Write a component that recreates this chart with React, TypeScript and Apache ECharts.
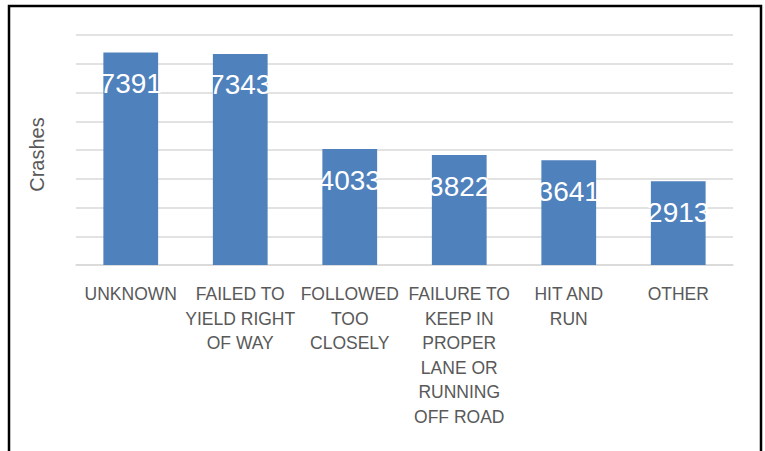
import React, { useEffect, useRef } from "react";
import * as echarts from "echarts";

const categories = [
  "UNKNOWN",
  "FAILED TO YIELD RIGHT OF WAY",
  "FOLLOWED TOO CLOSELY",
  "FAILURE TO KEEP IN PROPER LANE OR RUNNING OFF ROAD",
  "HIT AND RUN",
  "OTHER",
];
const wrappedLabels = [
  "UNKNOWN",
  "FAILED TO\nYIELD RIGHT\nOF WAY",
  "FOLLOWED\nTOO\nCLOSELY",
  "FAILURE TO\nKEEP IN\nPROPER\nLANE OR\nRUNNING\nOFF ROAD",
  "HIT AND\nRUN",
  "OTHER",
];
const crashes = [7391, 7343, 4033, 3822, 3641, 2913];
const yAxisName = "Crashes";
const yMin = 0;
const yMax = 8000;
const yInterval = 1000;

export default function App() {
  const ref = useRef<HTMLDivElement>(null);
  useEffect(() => {
    if (!ref.current) return;
    const chart = echarts.init(ref.current, null, { renderer: "svg" });
    chart.setOption({
      animation: false,
      backgroundColor: "#ffffff",
      grid: { left: 76, right: 32, top: 35, bottom: 186, containLabel: false },
      graphic: [
        {
          type: "rect",
          shape: { x: 9, y: 6, width: 752, height: 470 },
          style: { fill: "none", stroke: "#000000", lineWidth: 2.5 },
          silent: true,
        },
      ],
      xAxis: {
        type: "category",
        data: categories,
        axisTick: { show: false },
        axisLine: { show: true, lineStyle: { color: "#d9d9d9", width: 1.5 } },
        axisLabel: {
          interval: 0,
          margin: 17,
          color: "#595959",
          fontFamily: "Liberation Sans, Arial, sans-serif",
          fontSize: 17.5,
          lineHeight: 24.5,
          align: "center",
          formatter: (_v: string, i: number) => wrappedLabels[i],
        },
      },
      yAxis: {
        type: "value",
        min: yMin,
        max: yMax,
        interval: yInterval,
        name: yAxisName,
        nameLocation: "middle",
        nameGap: 29,
        nameRotate: 90,
        nameTextStyle: {
          color: "#595959",
          fontFamily: "Liberation Sans, Arial, sans-serif",
          fontSize: 20,
          padding: [0, 0, 0, -9],
        },
        axisLabel: { show: false },
        axisTick: { show: false },
        axisLine: { show: false },
        splitLine: { show: true, lineStyle: { color: "#d9d9d9", width: 1.5 } },
      },
      series: [
        {
          type: "bar",
          data: crashes,
          barCategoryGap: "50%",
          itemStyle: { color: "#4f81bd" },
          label: {
            show: true,
            position: "insideTop",
            distance: 17,
            color: "#ffffff",
            fontFamily: "Liberation Sans Narrow, Liberation Sans, Arial, sans-serif",
            fontSize: 28,
          },
        },
      ],
    });
    return () => chart.dispose();
  }, []);
  return (
    <div
      ref={ref}
      style={{ position: "fixed", left: 0, top: 0, width: 765, height: 451 }}
    />
  );
}
